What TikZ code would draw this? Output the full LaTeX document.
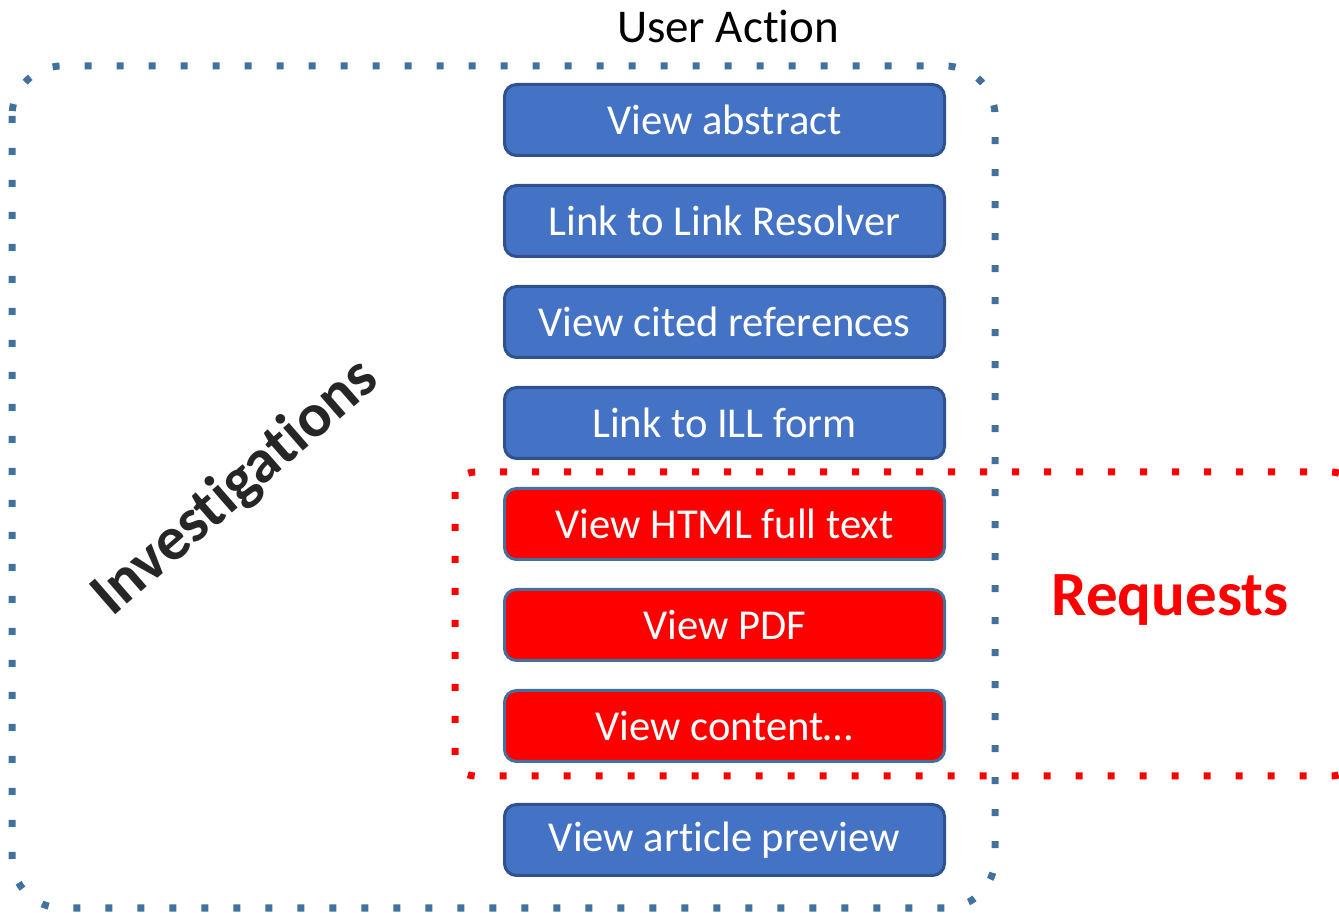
\documentclass[tikz,border=0pt]{standalone}
\usepackage{fontspec}
\setmainfont{Carlito}[RawFeature={-liga;-clig;-calt}]
\usetikzlibrary{positioning}
\definecolor{boxblue}{HTML}{4472C4}
\definecolor{boxline}{HTML}{2F528F}
\definecolor{dotblue}{HTML}{41719C}
\definecolor{labelgray}{HTML}{262626}
\tikzset{
    action/.style={rectangle,rounded corners=6pt,draw=boxline,line width=1.5pt,fill=boxblue,text=white,
        minimum width=220pt,minimum height=35.5pt,font=\fontsize{21.3}{25}\selectfont},
    request/.style={action,fill=red,draw=dotblue},
    dotline/.style={line width=3.5pt,dash pattern=on 3.5pt off 12.5pt},
}

\begin{document}
\begin{tikzpicture}[x=0.5pt,y=-0.5pt]
    \useasboundingbox (0,0) rectangle (1339,913);
    \clip (0,0) rectangle (1339,913);
    % group frames
    \draw[dotline,draw=dotblue,rounded corners=25pt] (12,66) rectangle (995,908);
    \draw[dotline,draw=red,rounded corners=10pt] (455,472) rectangle (1352,776);
    % user actions
    \node[action] (abstract) at (724.5,120) {View abstract};
    \node[action,below=13.5pt of abstract] (resolver) {Link to Link Resolver};
    \node[action,below=13.5pt of resolver] (cited) {View cited references};
    \node[action,below=13.5pt of cited] (ill) {Link to ILL form};
    \node[request,below=13.5pt of ill] (html) {View HTML full text};
    \node[request,below=13.5pt of html] (pdf) {View PDF};
    \node[request,below=13.5pt of pdf] (content) {View content…};
    \node[action,below=20pt of content] (preview) {View article preview};
    % labels
    \node[font=\fontsize{23.5}{28}\selectfont] (title) at (728,27) {User Act\kern0pt ion};
    \node[font=\fontsize{31}{37}\selectfont\bfseries,text=labelgray,rotate=41] (invest) at (236,488) {Invest\kern0pt igat\kern0pt ions};
    \node[font=\fontsize{31.5}{38}\selectfont\bfseries,text=red] (req) at (1170,600) {Requests};
\end{tikzpicture}
\end{document}
